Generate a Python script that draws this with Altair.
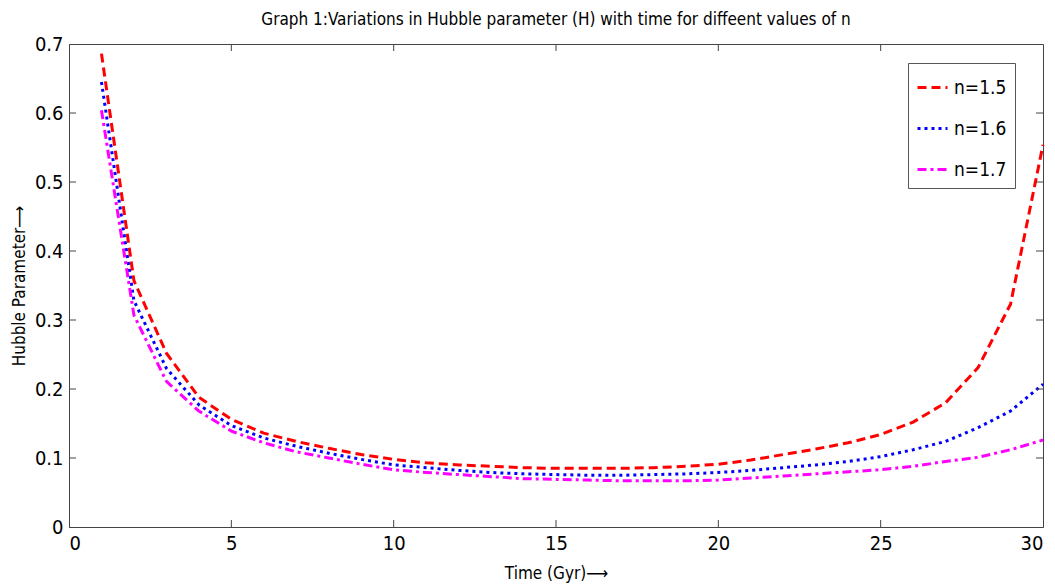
import altair as alt
import pandas as pd

t = list(range(1, 31))
h15 = [0.686, 0.357, 0.252, 0.188, 0.156, 0.136, 0.124, 0.114, 0.105, 0.098,
       0.093, 0.090, 0.088, 0.086, 0.085, 0.085, 0.085, 0.086, 0.088, 0.091,
       0.097, 0.105, 0.113, 0.122, 0.134, 0.152, 0.180, 0.231, 0.323, 0.554]
h16 = [0.645, 0.328, 0.230, 0.177, 0.147, 0.129, 0.117, 0.107, 0.098, 0.090,
       0.086, 0.082, 0.079, 0.077, 0.076, 0.075, 0.075, 0.076, 0.077, 0.079,
       0.082, 0.086, 0.090, 0.095, 0.102, 0.112, 0.124, 0.144, 0.168, 0.207]
h17 = [0.604, 0.307, 0.211, 0.168, 0.139, 0.122, 0.109, 0.100, 0.091, 0.083,
       0.079, 0.076, 0.073, 0.070, 0.069, 0.068, 0.067, 0.067, 0.067, 0.068,
       0.071, 0.074, 0.077, 0.080, 0.083, 0.088, 0.095, 0.101, 0.112, 0.126]
series = ["n=1.5", "n=1.6", "n=1.7"]
colors = ["#ff0000", "#0000ff", "#ff00ff"]
dashes = [[9, 5], [3, 4], [9, 4, 3, 4]]
x_ticks = [0, 5, 10, 15, 20, 25, 30]
y_ticks = [0, 0.1, 0.2, 0.3, 0.4, 0.5, 0.6, 0.7]

rows = []
for name, vals in zip(series, [h15, h16, h17]):
    for ti, v in zip(t, vals):
        rows.append({"t": ti, "H": v, "n": name})
df = pd.DataFrame(rows)

W, H = 974, 483
FONT = "DejaVu Sans Condensed, Roboto Condensed, Liberation Sans Narrow, Roboto, sans-serif"

xs = alt.Scale(domain=[0, 30], nice=False)
ys = alt.Scale(domain=[0, 0.7], nice=False)

lines = alt.Chart(df).mark_line(strokeWidth=3).encode(
    x=alt.X("t:Q", scale=xs,
            axis=alt.Axis(values=x_ticks, title="Time (Gyr)⟶", tickSize=0, labelPadding=6,
                          grid=False, titlePadding=12, format="d")),
    y=alt.Y("H:Q", scale=ys,
            axis=alt.Axis(values=y_ticks, title="Hubble Parameter⟶", tickSize=0, labelPadding=6,
                          grid=False, titlePadding=6, format=".1~f")),
    color=alt.Color("n:N", scale=alt.Scale(domain=series, range=colors),
                    legend=alt.Legend(title=None, orient="none", legendX=839, legendY=19,
                                      symbolType="stroke", symbolSize=900, symbolStrokeWidth=3,
                                      labelFontSize=19, labelFont=FONT, rowPadding=14,
                                      padding=8, strokeColor="#555555", fillColor="white",
                                      labelColor="black", labelOffset=5)),
    strokeDash=alt.StrokeDash("n:N", scale=alt.Scale(domain=series, range=dashes), legend=None),
)

xt = pd.DataFrame({"v": x_ticks[1:-1]})
yt = pd.DataFrame({"v": y_ticks[1:-1]})
tick_style = dict(color="#444444", strokeWidth=1)
bottom = alt.Chart(xt).mark_rule(**tick_style).encode(
    x=alt.X("v:Q", scale=xs), y=alt.value(H), y2=alt.value(H - 7))
top = alt.Chart(xt).mark_rule(**tick_style).encode(
    x=alt.X("v:Q", scale=xs), y=alt.value(0), y2=alt.value(7))
left = alt.Chart(yt).mark_rule(**tick_style).encode(
    y=alt.Y("v:Q", scale=ys), x=alt.value(0), x2=alt.value(7))
right = alt.Chart(yt).mark_rule(**tick_style).encode(
    y=alt.Y("v:Q", scale=ys), x=alt.value(W), x2=alt.value(W - 7))

chart = alt.layer(lines, bottom, top, left, right).properties(
    width=W, height=H,
    title=alt.Title("Graph 1:Variations in Hubble parameter (H) with time for diffeent values of n",
                    font=FONT, fontSize=17, fontWeight="normal", color="black", offset=5),
    autosize=alt.AutoSizeParams(type="none"),
    padding={"left": 61, "top": 36, "right": 4, "bottom": 70},
    background="white",
).configure_view(stroke="#444444", strokeWidth=1).configure_axis(
    labelFont=FONT, labelFontSize=20, labelColor="black",
    titleFont=FONT, titleFontSize=17, titleFontWeight="normal", titleColor="black",
    domainColor="#444444",
)

chart.save("out.html", embed_options={"renderer": "svg", "actions": False})
